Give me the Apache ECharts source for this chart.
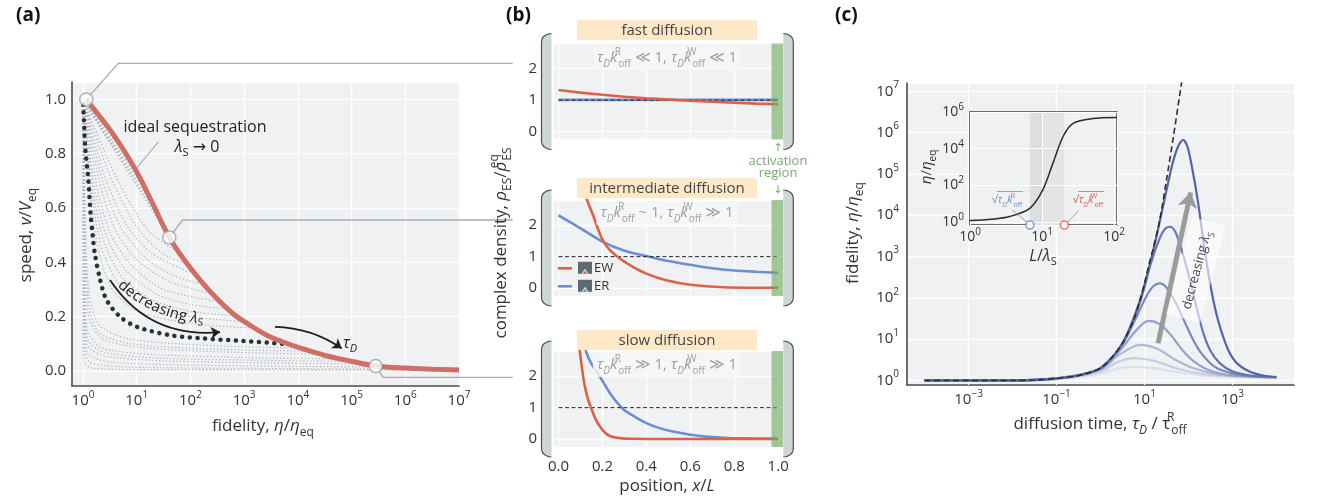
<!DOCTYPE html>
<html>
<head>
<meta charset="utf-8">
<script src="https://cdn.jsdelivr.net/npm/echarts@6.0.0/dist/echarts.min.js"></script>
<style>
html,body{margin:0;padding:0;background:#ffffff;}
#chart{width:1319px;height:502px;}
</style>
</head>
<body>
<div id="chart"></div>
<script>
// ================= DATA =================
// ---- Panel (a): speed v/V_eq versus fidelity (fidelity stored as log10) ----
const aXTickExps = [0, 1, 2, 3, 4, 5, 6, 7];
const aYTicks = [0.0, 0.2, 0.4, 0.6, 0.8, 1.0];
const aIdealLogFid = [0.06, 0.3, 0.55, 0.8, 1.05, 1.3, 1.607, 1.9, 2.2, 2.5, 2.8, 3.1, 3.42, 3.75, 4.04, 4.5, 5.0, 5.45, 6.0, 6.5, 7.0];
const aIdealSpeed  = [1.0, 0.94, 0.875, 0.8, 0.715, 0.615, 0.492, 0.405, 0.33, 0.265, 0.21, 0.17, 0.132, 0.105, 0.085, 0.058, 0.036, 0.019, 0.011, 0.007, 0.004];
const aSeqLogFid = [0.005, 0.04, 0.1, 0.14, 0.18, 0.22, 0.32, 0.44, 0.69, 1.0, 1.62, 2.24, 2.86, 3.48, 3.73];
const aSeqSpeed  = [0.98, 0.825, 0.70, 0.58, 0.5, 0.433, 0.335, 0.261, 0.2, 0.163, 0.132, 0.12, 0.112, 0.104, 0.1];
// family of curves (fixed tau_D, varying lambda_S): [log10 fidelity, speed]
const aFamilyCurves = [
  [[0.02,0.99],[0.3,0.935]],
  [[0.02,0.99],[0.55,0.87]],
  [[0.02,0.99],[0.8,0.795]],
  [[0.02,0.99],[1.05,0.71]],
  [[0.02,0.99],[1.2,0.655]],
  [[0.02,0.99],[1.35,0.595]],
  [[0.02,0.99],[1.5,0.535]],
  [[0.02,0.99],[1.65,0.478]],
  [[0.02,0.99],[0.6,0.72],[1.2,0.52],[1.8,0.433]],
  [[0.02,0.99],[0.5,0.72],[1.0,0.53],[1.5,0.43],[1.95,0.392]],
  [[0.02,0.99],[0.4,0.72],[0.8,0.54],[1.3,0.43],[2.1,0.355]],
  [[0.02,0.99],[0.35,0.71],[0.7,0.53],[1.2,0.41],[1.7,0.35],[2.25,0.318]],
  [[0.02,0.99],[0.3,0.7],[0.6,0.52],[1.0,0.41],[1.6,0.33],[2.4,0.285]],
  [[0.02,0.99],[0.25,0.69],[0.5,0.51],[0.9,0.39],[1.5,0.3],[2.55,0.255]],
  [[0.02,0.99],[0.2,0.69],[0.45,0.49],[0.8,0.37],[1.4,0.28],[2.0,0.245],[2.7,0.228]],
  [[0.02,0.99],[0.17,0.68],[0.4,0.47],[0.75,0.34],[1.3,0.26],[2.0,0.22],[2.85,0.203]],
  [[0.02,0.99],[0.15,0.67],[0.35,0.45],[0.7,0.31],[1.2,0.24],[2.0,0.2],[3.0,0.182]],
  [[0.02,0.99],[0.12,0.68],[0.28,0.45],[0.55,0.3],[1.0,0.22],[2.0,0.175],[3.2,0.158]],
  [[0.01,0.99],[0.03,0.7],[0.06,0.45],[0.12,0.28],[0.3,0.17],[0.8,0.12],[1.8,0.1],[2.9,0.09],[4.0,0.085]],
  [[0.01,0.99],[0.025,0.65],[0.055,0.38],[0.12,0.23],[0.3,0.14],[0.9,0.1],[2.2,0.082],[4.2,0.073]],
  [[0.01,0.99],[0.02,0.6],[0.05,0.33],[0.12,0.19],[0.35,0.12],[1.0,0.088],[2.5,0.071],[4.4,0.062]],
  [[0.01,0.99],[0.015,0.5],[0.04,0.25],[0.1,0.14],[0.35,0.085],[1.2,0.062],[3.0,0.05],[4.8,0.045]],
  [[0.005,0.99],[0.01,0.45],[0.035,0.21],[0.1,0.11],[0.4,0.068],[1.4,0.048],[3.2,0.04],[5.05,0.035]],
  [[0.005,0.99],[0.01,0.4],[0.03,0.18],[0.1,0.09],[0.4,0.055],[1.5,0.038],[3.5,0.03],[5.3,0.026]],
  [[0.005,0.99],[0.008,0.3],[0.03,0.12],[0.1,0.06],[0.5,0.033],[2.0,0.022],[4.0,0.017],[5.9,0.014]],
  [[0.005,0.99],[0.006,0.2],[0.025,0.07],[0.15,0.03],[0.8,0.015],[3.0,0.01],[6.6,0.007]],
  [[0.005,0.99],[0.005,0.1],[0.02,0.03],[0.2,0.01],[1.5,0.005],[7.0,0.003]]
];
const aMarkerLogFid = [0.061, 1.607, 5.449];
const aMarkerSpeed  = [1.0, 0.492, 0.0184];
// connector bends (data coords) leading from the markers towards panel (b)
const aConnectorBendLogFid = [0.657, 1.856, 5.59];
const aConnectorBendSpeed  = [1.1326, 0.556, -0.0232];
const aConnectorEndLogFid  = 8.0;

// ---- Panel (b): complex density profiles vs position x/L ----
const bXTicks = [0.0, 0.2, 0.4, 0.6, 0.8, 1.0];
const bYTicks = [0, 1, 2];
const bPos = [0, 0.1, 0.2, 0.3, 0.4, 0.5, 0.6, 0.7, 0.8, 0.9, 1.0];
const bFastEW = [1.32, 1.24, 1.17, 1.11, 1.06, 1.02, 0.98, 0.95, 0.92, 0.89, 0.87];
const bFastER = [1.01, 1.01, 1.01, 1.01, 1.01, 1.01, 1.01, 1.01, 1.01, 1.01, 1.01];
const bMidER  = [2.31, 1.9, 1.48, 1.19, 1.02, 0.86, 0.74, 0.63, 0.56, 0.52, 0.49];
const bMidEWPos = [0.1, 0.128, 0.158, 0.188, 0.218, 0.264, 0.325, 0.4, 0.49, 0.6, 0.75, 1.0];
const bMidEW    = [3.5, 2.84, 2.31, 1.73, 1.34, 1.02, 0.73, 0.46, 0.25, 0.11, 0.03, 0.01];
const bSlowEWPos = [0.085, 0.098, 0.11, 0.12, 0.135, 0.15, 0.17, 0.188, 0.21, 0.234, 0.27, 0.33, 0.45, 0.6, 0.8, 1.0];
const bSlowEW    = [3.4, 2.73, 2.1, 1.67, 1.25, 0.96, 0.62, 0.41, 0.22, 0.1, 0.04, 0.01, 0.005, 0.005, 0.005, 0.005];
const bSlowERPos = [0.11, 0.128, 0.15, 0.188, 0.24, 0.295, 0.35, 0.4, 0.46, 0.52, 0.6, 0.67, 0.75, 0.825, 0.9, 1.0];
const bSlowER    = [3.2, 2.73, 2.4, 1.99, 1.4, 0.95, 0.7, 0.51, 0.35, 0.24, 0.14, 0.08, 0.045, 0.025, 0.02, 0.02];
const bEquilibrium = 1;
const bActivationStart = 0.97;

// ---- Panel (c): fidelity vs diffusion time (both log10) ----
const cXTickExps = [-3, -1, 1, 3];
const cYTickExps = [0, 1, 2, 3, 4, 5, 6, 7];
const cLimitLogT = [-4, -3, -2, -1.5, -1, -0.5, 0, 0.25, 0.5, 0.75, 0.9, 1.0, 1.1, 1.2, 1.35, 1.5, 1.65, 1.8, 1.9];
const cLimitLogF = [0, 0, 0, 0.01, 0.05, 0.12, 0.3, 0.55, 0.9, 1.45, 1.95, 2.35, 2.8, 3.2, 3.9, 4.85, 5.85, 6.9, 7.6];
// curves for decreasing lambda_S: darkest (smallest lambda_S) first
const cCurves = [
  [[-4,0],[-2,0],[-1,0.05],[-0.5,0.12],[0,0.3],[0.5,0.9],[0.9,1.95],[1.2,3.15],[1.5,4.6],[1.65,5.3],[1.78,5.7],[1.88,5.82],[1.98,5.65],[2.1,5.05],[2.22,4.3],[2.35,3.3],[2.5,2.3],[2.67,1.47],[2.9,0.75],[3.1,0.42],[3.4,0.21],[3.7,0.12],[4.0,0.08]],
  [[-4,0],[-2,0],[-1,0.05],[-0.5,0.12],[0,0.3],[0.5,0.9],[0.9,1.9],[1.15,2.85],[1.35,3.45],[1.47,3.67],[1.58,3.72],[1.7,3.6],[1.85,3.15],[2.03,2.45],[2.2,1.7],[2.34,1.14],[2.5,0.72],[2.71,0.42],[3.0,0.22],[3.4,0.12],[4.0,0.08]],
  [[-4,0],[-2,0],[-1,0.05],[0,0.29],[0.5,0.88],[0.8,1.5],[1.05,2.05],[1.2,2.28],[1.35,2.35],[1.5,2.25],[1.7,1.9],[1.9,1.45],[2.1,1.0],[2.3,0.65],[2.6,0.33],[3.0,0.17],[3.5,0.1],[4.0,0.08]],
  [[-4,0],[-2,0],[-1,0.05],[0,0.28],[0.5,0.8],[0.8,1.2],[1.09,1.44],[1.35,1.36],[1.6,1.1],[1.85,0.75],[2.1,0.48],[2.4,0.28],[2.8,0.15],[3.3,0.1],[4.0,0.08]],
  [[-4,0],[-2,0],[-1,0.04],[0,0.26],[0.4,0.6],[0.9,0.86],[1.3,0.76],[1.7,0.5],[2.1,0.3],[2.6,0.16],[3.2,0.1],[4,0.08]],
  [[-4,0],[-2,0],[-1,0.04],[0,0.22],[0.4,0.45],[0.75,0.54],[1.2,0.48],[1.7,0.3],[2.3,0.16],[3,0.1],[4,0.08]],
  [[-4,0],[-2,0],[-1,0.03],[0,0.17],[0.4,0.29],[0.75,0.33],[1.2,0.3],[1.7,0.21],[2.3,0.13],[3,0.09],[4,0.08]]
];
// inset: fidelity vs L/lambda_S (both log10)
const cInsetXTickExps = [0, 1, 2];
const cInsetYTickExps = [0, 2, 4, 6];
const cInsetLogL = [0, 0.3, 0.55, 0.83, 1.01, 1.15, 1.29, 1.43, 1.7, 2.04];
const cInsetLogF = [0.08, 0.15, 0.3, 0.75, 1.75, 3.2, 4.65, 5.38, 5.64, 5.7];
const cInsetMarkLogL = [0.83, 1.31];   // sqrt(tau_D k_off^R), sqrt(tau_D k_off^W)
const cInsetBandMid = 1.0;

// ================= STYLE =================
const F = '"Open Sans", "DejaVu Sans", sans-serif';
const TXT = '#333333';
const BG = '#eff1f2';
const RED_A = '#cf6e67';
const RED = '#dc6149';
const BLUE = '#6d8ed0';
const cColors = ['#5365a3', '#6676ae', '#7c8aba', '#97a2c8', '#b1b9d6', '#c8cee2', '#dbdfec'];

function R(fs) {
  const s = Math.round(fs * 0.68);
  const lh = Math.round(fs * 1.45);
  return {
    n: {fontSize: fs, fontFamily: F, lineHeight: lh},
    i: {fontSize: fs, fontFamily: F, fontStyle: 'italic', lineHeight: lh},
    sub: {fontSize: s, fontFamily: F, verticalAlign: 'bottom', lineHeight: s + 1},
    isub: {fontSize: s, fontFamily: F, fontStyle: 'italic', verticalAlign: 'bottom', lineHeight: s + 1},
    sup: {fontSize: s, fontFamily: F, verticalAlign: 'top', lineHeight: s + 1},
    supz: {fontSize: s, fontFamily: F, verticalAlign: 'top', lineHeight: s + 1, width: 1, align: 'left'}
  };
}
const near = (v, t) => Math.abs(v - t) < 1e-6;
const pow10Label = (exps) => (v) => {
  const e = exps.find(t => near(v, t));
  if (e === undefined) return '';
  return '{n|10}{sup|' + (e < 0 ? '\u2212' + (-e) : e) + '}';
};
const listLabel = (ticks, digits) => (v) => {
  const t = ticks.find(q => near(v, q));
  return t === undefined ? '' : t.toFixed(digits);
};
const zip = (xs, ys) => xs.map((x, k) => [x, ys[k]]);

// ================= AXES =================
const spine = {show: true, onZero: false, lineStyle: {color: '#4b4b4b', width: 1.6}};
const whiteSplit = {show: true, lineStyle: {color: '#ffffff', width: 1.3}};
const lab = (fs, extra) => Object.assign({color: TXT, fontSize: fs, fontFamily: F, rich: R(fs)}, extra);

const grids = [
  {left: 72, top: 82, width: 387, height: 304},
  {left: 553, top: 43.5, width: 230, height: 96},
  {left: 553, top: 200, width: 230, height: 96},
  {left: 553, top: 351, width: 230, height: 96},
  {left: 907, top: 83, width: 387, height: 302},
  {left: 970, top: 112, width: 147, height: 113, z: 3, borderColor: '#3f3f3f', borderWidth: 1.5, backgroundColor: '#f0f2f2'}
].map(g => Object.assign({show: true, backgroundColor: BG, borderWidth: 0, containLabel: false}, g));

const xAxes = [
  {gridIndex: 0, type: 'value', min: -0.205, max: 7, splitNumber: 7, axisLine: spine, axisTick: {show: false},
   splitLine: whiteSplit, axisLabel: lab(15, {formatter: pow10Label(aXTickExps), margin: 4})},
  ...[1, 2, 3].map(g => ({gridIndex: g, type: 'value', min: -0.025, max: 1.022, splitNumber: 5,
   axisLine: {show: false, onZero: false}, axisTick: {show: false}, splitLine: whiteSplit,
   axisLabel: lab(15, {show: g === 3, formatter: listLabel(bXTicks, 1), margin: 12})})),
  {gridIndex: 4, type: 'value', min: -4.4, max: 4.4, splitNumber: 8, axisLine: spine, axisTick: {show: false},
   splitLine: {show: false}, axisLabel: lab(15, {formatter: pow10Label(cXTickExps), margin: 4})},
  {gridIndex: 5, type: 'value', min: 0, max: 2.04, splitNumber: 2, z: 4, axisLine: {show: false, onZero: false}, axisTick: {show: false},
   splitLine: {show: true, lineStyle: {color: '#ffffff', width: 1}}, axisLabel: lab(14, {formatter: pow10Label(cInsetXTickExps), margin: 2})}
];
const yAxes = [
  {gridIndex: 0, type: 'value', min: -0.055, max: 1.064, splitNumber: 5, axisLine: spine, axisTick: {show: false},
   splitLine: whiteSplit, axisLabel: lab(15, {formatter: listLabel(aYTicks, 1), margin: 6})},
  ...[1, 2, 3].map(g => ({gridIndex: g, type: 'value', min: -0.25, max: 2.8, splitNumber: 3,
   axisLine: {show: false, onZero: false}, axisTick: {show: false}, splitLine: whiteSplit,
   axisLabel: lab(15, {formatter: listLabel(bYTicks, 0), margin: 16})})),
  {gridIndex: 4, type: 'value', min: -0.11, max: 7.2, splitNumber: 7, axisLine: spine, axisTick: {show: false},
   splitLine: whiteSplit, axisLabel: lab(15, {formatter: pow10Label(cYTickExps), margin: 8})},
  {gridIndex: 5, type: 'value', min: -0.16, max: 6.0, splitNumber: 3, z: 4, axisLine: {show: false, onZero: false}, axisTick: {show: false},
   splitLine: {show: true, lineStyle: {color: '#ffffff', width: 1}}, axisLabel: lab(14, {formatter: pow10Label(cInsetYTickExps), margin: 6})}
];

// ================= SERIES =================
const series = [];
const line = (ax, data, style, extra) => Object.assign({
  type: 'line', xAxisIndex: ax, yAxisIndex: ax, data: data, showSymbol: false, symbol: 'none',
  silent: true, lineStyle: style, z: 2
}, extra || {});

// Panel (a)
aFamilyCurves.forEach(cv => series.push(line(0, cv, {color: '#aab1b9', width: 1.1, type: [1.3, 2.2]}, {smooth: 0.25, z: 2})));
series.push(line(0, zip(aSeqLogFid, aSeqSpeed), {color: '#2a3236', width: 4.5, type: [0.1, 7.6], cap: 'round'}, {smooth: 0.3, z: 3}));
series.push(line(0, zip(aIdealLogFid, aIdealSpeed), {color: RED_A, width: 5}, {smooth: 0.35, z: 4}));
series.push(line(0, [[0.968, 0.74], [1.402, 0.843]], {color: '#8d9399', width: 1}, {clip: false, z: 5}));
series.push({type: 'scatter', xAxisIndex: 0, yAxisIndex: 0, data: zip(aMarkerLogFid, aMarkerSpeed), symbol: 'circle', symbolSize: 13,
  clip: false, silent: true, z: 8, itemStyle: {color: '#ffffff', borderColor: '#9aa1a7', borderWidth: 1.5}});
series.push({type: 'lines', coordinateSystem: 'cartesian2d', xAxisIndex: 0, yAxisIndex: 0, silent: true, clip: false, z: 9,
  symbol: ['none', 'arrow'], symbolSize: 9, effect: {show: false},
  lineStyle: {color: '#1e1e1e', width: 1.8, curveness: -0.3, opacity: 1},
  data: [{coords: [[0.503, 0.335], [2.551, 0.1435]]}]});
series.push({type: 'lines', coordinateSystem: 'cartesian2d', xAxisIndex: 0, yAxisIndex: 0, silent: true, clip: false, z: 9,
  symbol: ['none', 'arrow'], symbolSize: 9, effect: {show: false},
  lineStyle: {color: '#1e1e1e', width: 1.8, curveness: 0.15, opacity: 1},
  data: [{coords: [[3.575, 0.163], [4.817, 0.0835]]}]});

// Panel (b)
const greenArea = {silent: true, z: 5, itemStyle: {color: 'rgba(112,171,97,0.62)'}, data: [[{xAxis: bActivationStart}, {xAxis: 1.022}]]};
const bSets = [
  {ax: 1, er: zip(bPos, bFastER), ew: zip(bPos, bFastEW)},
  {ax: 2, er: zip(bPos, bMidER), ew: zip(bMidEWPos, bMidEW)},
  {ax: 3, er: zip(bSlowERPos, bSlowER), ew: zip(bSlowEWPos, bSlowEW)}
];
bSets.forEach(s => {
  series.push(line(s.ax, s.er, {color: BLUE, width: 2.6}, {smooth: 0.3, z: 2}));
  series.push(line(s.ax, [[0, bEquilibrium], [1, bEquilibrium]], {color: '#222', width: 1, type: [4, 2.5]}, {z: 3}));
  series.push(line(s.ax, s.ew, {color: RED, width: 2.6}, {smooth: 0.3, z: 4, markArea: greenArea}));
});

// Panel (c)
const cCurvesDrawOrder = cCurves.map((c, k) => ({c, k})).reverse();
cCurvesDrawOrder.forEach(({c, k}, idx) => {
  const extra = {smooth: 0.3, z: 2 + (cCurves.length - k) * 0.01};
  if (idx === 0) extra.markLine = {silent: true, z: 1, symbol: ['none', 'none'], label: {show: false},
    lineStyle: {color: '#ffffff', width: 1.3, type: 'solid'}, data: cXTickExps.map(e => ({xAxis: e}))};
  series.push(line(4, c, {color: cColors[k], width: 2.2}, extra));
});
series.push(line(4, zip(cLimitLogT, cLimitLogF), {color: '#2e2e2e', width: 1.6, type: [6, 3.5]}, {smooth: 0.3, z: 3}));
series.push({type: 'lines', coordinateSystem: 'cartesian2d', xAxisIndex: 4, yAxisIndex: 4, silent: true, z: 6,
  symbol: ['none', 'arrow'], symbolSize: 15, effect: {show: false},
  lineStyle: {color: '#9b9b9b', width: 5, opacity: 1, curveness: 0},
  data: [{coords: [[1.31, 0.9], [2.05, 4.55]]}]});
// inset
series.push(line(5, zip(cInsetLogL, cInsetLogF), {color: '#2a2a2a', width: 1.5}, {smooth: 0.3, z: 7,
  markArea: {silent: true, z: 3.5, data: [
    [{xAxis: cInsetMarkLogL[0], itemStyle: {color: '#dddedf'}}, {xAxis: cInsetBandMid}],
    [{xAxis: cInsetBandMid, itemStyle: {color: '#e3e4e5'}}, {xAxis: cInsetMarkLogL[1]}]
  ]}}));
series.push({type: 'scatter', xAxisIndex: 5, yAxisIndex: 5, symbol: 'circle', symbolSize: 8, clip: false, silent: true, z: 9,
  data: [
    {value: [cInsetMarkLogL[0], -0.16], itemStyle: {color: '#fff', borderColor: BLUE, borderWidth: 1.6}},
    {value: [cInsetMarkLogL[1], -0.16], itemStyle: {color: '#fff', borderColor: RED, borderWidth: 1.6}}
  ]});

// ================= GRAPHIC (titles, annotations) =================
const G = [];
function T(x, y, text, fs, o) {
  o = o || {};
  G.push({type: 'text', x: x, y: y, rotation: o.rot || 0, z: o.z || 50, silent: true,
    style: Object.assign({text: text, fontSize: fs, fontFamily: F, fill: o.fill || TXT, align: o.align || 'center',
      verticalAlign: 'middle', rich: R(fs), lineHeight: Math.round(fs * 1.45), fontWeight: o.weight || 'normal'},
      o.style || {})});
}
// panel labels
T(16, 16, '(a)', 19, {align: 'left', weight: 'bold', fill: '#111'});
T(506, 16, '(b)', 19, {align: 'left', weight: 'bold', fill: '#111'});
T(835, 16, '(c)', 19, {align: 'left', weight: 'bold', fill: '#111'});
// axis titles
T(263, 426, 'fidelity, {i|η}/{i|η}{sub|eq}', 17);
T(26, 235, 'speed, {i|v}/{i|V}{sub|eq}', 17, {rot: Math.PI / 2});
T(501, 243, 'complex density, {i|ρ}{sub|ES}/{i|ρ}{supz|eq}{sub|ES}', 17, {rot: Math.PI / 2});
T(667, 486, 'position, {i|x}/{i|L}', 17);
T(853, 233, 'fidelity, {i|η}/{i|η}{sub|eq}', 17, {rot: Math.PI / 2});
T(1100, 424, 'diffusion time, {i|τ}{isub|D} / τ{supz|R}{sub|off}', 17);
// panel (a) annotations
T(195, 127, 'ideal sequestration', 16, {fill: '#222'});
T(197, 147, '{i|λ}{sub|S} → 0', 16, {fill: '#222'});
T(350, 343, '{i|τ}{isub|D}', 16, {fill: '#222'});
// curved text "decreasing λS" along a quadratic path
(function () {
  const P0 = [120, 283], C = [154.5, 315], P2 = [203, 319];
  const bez = t => [(1 - t) * (1 - t) * P0[0] + 2 * (1 - t) * t * C[0] + t * t * P2[0],
                    (1 - t) * (1 - t) * P0[1] + 2 * (1 - t) * t * C[1] + t * t * P2[1]];
  const N = 400, pts = [], cum = [0];
  for (let k = 0; k <= N; k++) pts.push(bez(k / N));
  for (let k = 1; k <= N; k++) cum.push(cum[k - 1] + Math.hypot(pts[k][0] - pts[k - 1][0], pts[k][1] - pts[k - 1][1]));
  const at = s => { let k = 1; while (k < N && cum[k] < s) k++; const a = pts[k - 1], b = pts[k];
    return {p: [(a[0] + b[0]) / 2, (a[1] + b[1]) / 2], ang: Math.atan2(b[1] - a[1], b[0] - a[0])}; };
  const cv = document.createElement('canvas').getContext('2d');
  const parts = [];
  'decreasing '.split('').forEach(ch => parts.push({ch, st: 'normal', fs: 15, dy: 0}));
  parts.push({ch: 'λ', st: 'italic', fs: 15, dy: 0});
  parts.push({ch: 'S', st: 'normal', fs: 10, dy: 4});
  parts.forEach(p => { cv.font = p.st + ' ' + p.fs + 'px ' + F; p.w = cv.measureText(p.ch).width; });
  const total = parts.reduce((a, p) => a + p.w, 0);
  let s = Math.max(0, (cum[N] - total) / 2);
  parts.forEach(p => {
    const q = at(s + p.w / 2);
    const nx = -Math.sin(q.ang), ny = Math.cos(q.ang);
    G.push({type: 'text', x: q.p[0] + nx * p.dy, y: q.p[1] + ny * p.dy, rotation: -q.ang, z: 50, silent: true,
      style: {text: p.ch, fontSize: p.fs, fontFamily: F, fontStyle: p.st, fill: '#222', align: 'center', verticalAlign: 'middle'}});
    s += p.w;
  });
})();

// panel (b) decorations: walls drawn as polygons with curved corners
function quad(p0, c, p2, n) {
  const out = [];
  for (let k = 0; k <= n; k++) { const t = k / n;
    out.push([(1 - t) * (1 - t) * p0[0] + 2 * (1 - t) * t * c[0] + t * t * p2[0],
              (1 - t) * (1 - t) * p0[1] + 2 * (1 - t) * t * c[1] + t * t * p2[1]]); }
  return out;
}
function wall(top, bottom, x0, x1) {
  const outline = quad([x0, top], [x1, top + 1], [x1, top + 9], 10)
    .concat(quad([x1, bottom - 9], [x1, bottom - 1], [x0, bottom], 10));
  G.push({type: 'polygon', z: 10, silent: true, shape: {points: outline}, style: {fill: '#cdd6d2', stroke: null}});
  G.push({type: 'polyline', z: 11, silent: true, shape: {points: outline}, style: {fill: null, stroke: '#4a4f52', lineWidth: 1.2}});
}
[43.5, 200, 351].forEach(top => {
  wall(top - 10, top + 106, 551.5, 541.5);
  wall(top - 10, top + 106, 783.3, 793.3);
});
const boxes = [[20, 'fast diffusion'], [178, 'intermediate diffusion'], [330, 'slow diffusion']];
boxes.forEach(([y, t]) => {
  G.push({type: 'rect', z: 20, silent: true, shape: {x: 577, y: y, width: 180, height: 20}, style: {fill: '#fde9c8'}});
  T(667, y + 10.5, t, 15, {fill: '#454545', z: 21});
});
const condStyle = {backgroundColor: 'rgba(246,247,247,0.85)', padding: [1, 4]};
T(667, 58, '{i|τ}{isub|D}{i|k}{supz|R}{sub|off} ≪ 1, {i|τ}{isub|D}{i|k}{supz|W}{sub|off} ≪ 1', 15, {fill: '#9b9fa3', z: 21, style: condStyle});
T(667, 213, '{i|τ}{isub|D}{i|k}{supz|R}{sub|off} ~ 1, {i|τ}{isub|D}{i|k}{supz|W}{sub|off} ≫ 1', 15, {fill: '#9b9fa3', z: 21, style: condStyle});
T(667, 365, '{i|τ}{isub|D}{i|k}{supz|R}{sub|off} ≫ 1, {i|τ}{isub|D}{i|k}{supz|W}{sub|off} ≫ 1', 15, {fill: '#9b9fa3', z: 21, style: condStyle});
T(778, 161.5, 'activation', 13, {fill: '#73ad6d'});
T(778, 173.5, 'region', 13, {fill: '#73ad6d'});
T(778, 148, '↑', 11, {fill: '#73ad6d'});
T(778, 190, '↓', 11, {fill: '#73ad6d'});
// legend in middle subplot
[[268.3, RED, 'EW'], [286.3, BLUE, 'ER']].forEach(([y, col, t]) => {
  G.push({type: 'line', z: 20, silent: true, shape: {x1: 558, y1: y, x2: 572, y2: y}, style: {stroke: col, lineWidth: 2.6}});
  G.push({type: 'rect', z: 20, silent: true, shape: {x: 578, y: y - 6.5, width: 14, height: 12}, style: {fill: '#5f6970'}});
  G.push({type: 'polygon', z: 21, silent: true, shape: {points: [[581.5, y + 5.5], [585, y + 0.5], [588.5, y + 5.5]]}, style: {fill: '#d9dde0'}});
  G.push({type: 'polygon', z: 22, silent: true, shape: {points: [[582.8, y + 5.5], [585, y + 2.5], [587.2, y + 5.5]]}, style: {fill: col}});
  T(594, y, t, 13, {align: 'left', fill: '#333', z: 21});
});

// panel (c) annotations
T(1196, 270, 'decreasing {i|λ}{sub|S}', 13, {rot: 1.31, fill: '#4a4a4a', z: 8,
  style: {backgroundColor: 'rgba(255,255,255,0.6)', padding: [9, 10, 7, 10]}});
T(927, 167, '{i|η}/{i|η}{sub|eq}', 15, {rot: Math.PI / 2});
T(1043, 256, '{i|L}/{i|λ}{sub|S}', 16);
T(1007, 200, '√{i|τ}{isub|D}{i|k}{supz|R}{sub|off}', 11, {fill: BLUE, z: 30});
T(1088, 200, '√{i|τ}{isub|D}{i|k}{supz|W}{sub|off}', 11, {fill: RED, z: 30});
G.push({type: 'line', z: 30, silent: true, shape: {x1: 997, y1: 191.5, x2: 1023, y2: 191.5}, style: {stroke: BLUE, lineWidth: 0.8}});
G.push({type: 'line', z: 30, silent: true, shape: {x1: 1078, y1: 191.5, x2: 1104, y2: 191.5}, style: {stroke: RED, lineWidth: 0.8}});
G.push({type: 'line', z: 30, silent: true, shape: {x1: 1012, y1: 210, x2: 1027, y2: 222}, style: {stroke: '#999', lineWidth: 0.9}});
G.push({type: 'line', z: 30, silent: true, shape: {x1: 1079, y1: 210, x2: 1068, y2: 222}, style: {stroke: '#999', lineWidth: 0.9}});

const option = {
  animation: false,
  backgroundColor: '#ffffff',
  textStyle: {fontFamily: F},
  grid: grids,
  xAxis: xAxes,
  yAxis: yAxes,
  series: series,
  graphic: {elements: G}
};
const chart = echarts.init(document.getElementById('chart'), null, {renderer: 'canvas', width: 1319, height: 502});
chart.setOption(option);

// connectors from the panel (a) markers into panel (b): positions come from panel (a)'s scales
const toPx = p => chart.convertToPixel({xAxisIndex: 0, yAxisIndex: 0}, p);
const connEls = aMarkerLogFid.map((x, k) => ({
  type: 'polyline', z: 5, silent: true,
  shape: {points: [toPx([x, aMarkerSpeed[k]]), toPx([aConnectorBendLogFid[k], aConnectorBendSpeed[k]]),
                   toPx([aConnectorEndLogFid, aConnectorBendSpeed[k]])]},
  style: {stroke: '#a6acb1', lineWidth: 1.3, fill: null}
}));
chart.setOption({graphic: {elements: G.concat(connEls)}});
</script>
</body>
</html>
